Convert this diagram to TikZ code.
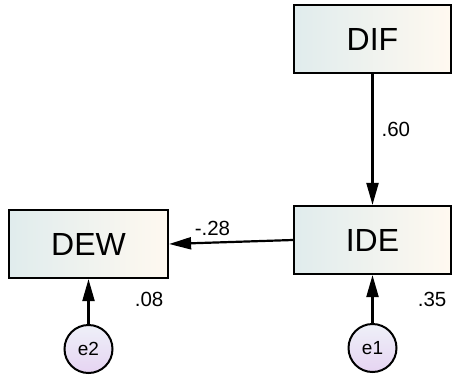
\documentclass[tikz,border=0pt]{standalone}
\usepackage{fontspec}
\setmainfont{Liberation Sans}
\usetikzlibrary{positioning, arrows.meta}
\definecolor{boxleft}{RGB}{224,236,237}
\definecolor{boxright}{RGB}{255,249,240}
\definecolor{errtop}{RGB}{238,240,248}
\definecolor{errbottom}{RGB}{230,212,242}
\tikzset{
	>={Triangle[length=22pt, width=12pt]}, % long filled heads
	var/.style={draw, line width=2.2pt, minimum width=157pt, minimum height=68pt, left color=boxleft, right color=boxright, font=\fontsize{32}{34}\selectfont}, % observed variables
	err/.style={draw, circle, line width=2pt, minimum size=48pt, inner sep=0pt, top color=errtop, bottom color=errbottom, font=\fontsize{19}{21}\selectfont}, % error terms
	coef/.style={inner sep=2pt, font=\fontsize{20.5}{22}\selectfont}, % estimates
}
\begin{document}
\begin{tikzpicture}[x=1pt, y=-1pt, line width=2.2pt, on grid]
		\useasboundingbox (0,0) rectangle (452,378);
		% Define the variables
		\node[var] (DIF) at (372.5,39) {DIF};
		\node[var, below=201pt of DIF] (IDE) {IDE};
		\node[var, minimum width=159pt] (DEW) at (88.5,244) {DEW};
		\node[err, below=108pt of IDE] (e1) {e1};
		\node[err, below=105pt of DEW] (e2) {e2};
		
		% Paths
		\path[->]
		(DIF) edge node[coef, right=6pt, pos=0.42] {.60} (IDE)
		(IDE.west) edge node[coef, above=4pt, pos=0.65] {-.28} (DEW.east)
		(e1) edge (IDE)
		(e2) edge (DEW);
		
		% Squared multiple correlations
		\node[coef] (r2dew) at ([shift={(-20,20)}]DEW.south east) {.08};
		\node[coef] (r2ide) at ([shift={(-20,24)}]IDE.south east) {.35};
	\end{tikzpicture}
\end{document}
